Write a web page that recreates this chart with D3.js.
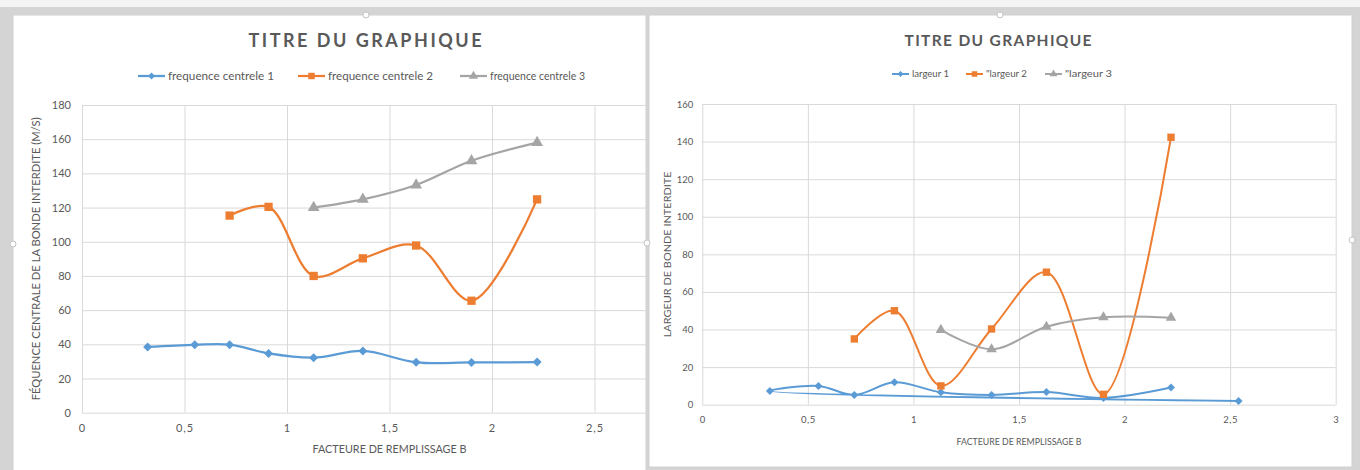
<!DOCTYPE html>
<html><head><meta charset="utf-8">
<script src="https://cdn.jsdelivr.net/npm/d3@7"></script>
<style>
body{margin:0;background:#fff}
svg{display:block}
text{font-family:Lato,'Noto Sans',sans-serif}
</style>
</head><body>
<svg id="c" width="1360" height="470"></svg>
<script>
// ---------- DATA ----------
const chartTitle = "TITRE DU GRAPHIQUE";
const xAxisTitle = "FACTEURE DE REMPLISSAGE B";
const xTicks = [0, 0.5, 1, 1.5, 2, 2.5, 3];

// Left chart
const leftYTitle = "FÉQUENCE CENTRALE DE  LA BONDE INTERDITE (M/S)";
const leftYTicks = [0, 20, 40, 60, 80, 100, 120, 140, 160, 180];
const leftNames = ["frequence centrele 1", "frequence centrele 2", "frequence centrele 3"];
const freq1X = [0.32, 0.55, 0.72, 0.91, 1.13, 1.37, 1.63, 1.90, 2.22];
const freq1Y = [38.5, 39.7, 39.8, 34.7, 32.2, 36.1, 29.5, 29.4, 29.6];
const freq2X = [0.72, 0.91, 1.13, 1.37, 1.63, 1.90, 2.22];
const freq2Y = [115.3, 120.4, 80.0, 90.3, 97.8, 65.5, 124.8];
const freq3X = [1.13, 1.37, 1.63, 1.90, 2.22];
const freq3Y = [120.0, 124.8, 133.2, 147.4, 158.0];

// Right chart
const rightYTitle = "LARGEUR DE BONDE INTERDITE";
const rightYTicks = [0, 20, 40, 60, 80, 100, 120, 140, 160];
const rightNames = ["largeur 1", "\"largeur 2", "\"largeur 3"];
const larg1X = [2.54, 0.32, 0.55, 0.72, 0.91, 1.13, 1.37, 1.63, 1.90, 2.22];
const larg1Y = [2.0, 7.3, 10.0, 5.2, 11.9, 6.6, 5.2, 6.7, 3.6, 9.1];
const larg2X = [0.72, 0.91, 1.13, 1.37, 1.63, 1.90, 2.22];
const larg2Y = [35.0, 50.0, 10.0, 40.3, 70.5, 5.5, 142.3];
const larg3X = [1.13, 1.37, 1.63, 1.90, 2.22];
const larg3Y = [39.8, 29.5, 41.5, 46.5, 46.3];

const colors = ["#5B9BD5", "#ED7D31", "#A5A5A5"];
const markerTypes = ["diamond", "square", "triangle"];

// ---------- DRAW ----------
const svg = d3.select("#c");
svg.append("rect").attr("width", 1360).attr("height", 470).attr("fill", "#d4d4d4");
svg.append("rect").attr("width", 1360).attr("height", 7).attr("fill", "#f4f4f4");

const loc = d3.formatLocale({decimal: ",", thousands: " ", grouping: [3], currency: ["", "€"]});
const fmt = d => loc.format("~g")(d);

function marker(sel, type, size, color) {
  if (type === "diamond") {
    sel.append("path").attr("d", d3.symbol(d3.symbolSquare, size * size / 2)())
      .attr("transform", "rotate(45)").attr("fill", color);
  } else if (type === "square") {
    sel.append("path").attr("d", d3.symbol(d3.symbolSquare, size * size * 0.85)()).attr("fill", color);
  } else {
    sel.append("path").attr("d", d3.symbol(d3.symbolTriangle, size * size * 0.75)()).attr("fill", color);
  }
}

function drawChart(cfg) {
  const g = svg.append("g");
  if (cfg.clip) {
    const id = "clip" + cfg.id;
    svg.append("clipPath").attr("id", id).append("rect")
      .attr("x", cfg.panel[0]).attr("y", cfg.panel[1]).attr("width", cfg.panel[2]).attr("height", cfg.panel[3]);
    g.attr("clip-path", `url(#${id})`);
  }
  g.append("rect").attr("x", cfg.panel[0]).attr("y", cfg.panel[1])
    .attr("width", cfg.panel[2]).attr("height", cfg.panel[3])
    .attr("fill", "#fff").attr("stroke", "#cfcfcf").attr("stroke-width", 1);

  const x = d3.scaleLinear().domain([0, 3]).range([cfg.plot.x0, cfg.plot.x1]);
  const y = d3.scaleLinear().domain([0, cfg.yMax]).range([cfg.plot.y0, cfg.plot.y1]);

  // gridlines
  g.append("g").attr("transform", `translate(0,${cfg.plot.y0})`)
    .call(d3.axisBottom(x).tickValues(xTicks).tickSize(-(cfg.plot.y0 - cfg.plot.y1)).tickFormat(""))
    .call(s => s.select(".domain").remove())
    .call(s => s.selectAll("line").attr("stroke", "#d9d9d9").attr("stroke-width", 1));
  g.append("g").attr("transform", `translate(${cfg.plot.x0},0)`)
    .call(d3.axisLeft(y).tickValues(cfg.yTicks).tickSize(-(cfg.plot.x1 - cfg.plot.x0)).tickFormat(""))
    .call(s => s.select(".domain").remove())
    .call(s => s.selectAll("line").attr("stroke", "#d9d9d9").attr("stroke-width", 1));

  // tick labels
  g.append("g").attr("transform", `translate(0,${cfg.plot.y0})`)
    .call(d3.axisBottom(x).tickValues(xTicks).tickSize(0).tickPadding(cfg.xPad).tickFormat(fmt))
    .call(s => s.select(".domain").remove())
    .call(s => s.selectAll("text").attr("fill", "#595959").attr("font-size", cfg.tickFont)
      .attr("font-family", "Lato, sans-serif").attr("letter-spacing", cfg.tickSpacing));
  g.append("g").attr("transform", `translate(${cfg.plot.x0},0)`)
    .call(d3.axisLeft(y).tickValues(cfg.yTicks).tickSize(0).tickPadding(cfg.yPad).tickFormat(fmt))
    .call(s => s.select(".domain").remove())
    .call(s => s.selectAll("text").attr("fill", "#595959").attr("font-size", cfg.tickFont)
      .attr("font-family", "Lato, sans-serif"));

  // titles
  g.append("text").attr("x", cfg.titleX).attr("y", cfg.titleY).attr("text-anchor", "middle")
    .attr("font-size", cfg.titleFont).attr("font-weight", "bold").attr("fill", "#595959")
    .attr("textLength", cfg.titleW).attr("lengthAdjust", "spacing").text(chartTitle);
  g.append("text").attr("x", (cfg.plot.x0 + cfg.plot.x1) / 2).attr("y", cfg.xTitleY)
    .attr("text-anchor", "middle").attr("font-size", cfg.xTitleFont).attr("fill", "#595959")
    .attr("textLength", cfg.xTitleW).attr("lengthAdjust", "spacingAndGlyphs").text(xAxisTitle);
  g.append("text").attr("transform", `translate(${cfg.yTitleX},${(cfg.plot.y0 + cfg.plot.y1) / 2}) rotate(-90)`)
    .attr("text-anchor", "middle").attr("font-size", cfg.yTitleFont).attr("fill", "#595959")
    .attr("textLength", cfg.yTitleW).attr("lengthAdjust", "spacingAndGlyphs").text(cfg.yTitle);

  // series
  const line = d3.line().x(d => x(d[0])).y(d => y(d[1])).curve(d3.curveCatmullRom.alpha(0.5));
  cfg.series.forEach((s, i) => {
    const pts = d3.zip(s.x, s.y);
    g.append("path").attr("d", line(pts)).attr("fill", "none")
      .attr("stroke", colors[i]).attr("stroke-width", cfg.lineW).attr("stroke-linejoin", "round");
    pts.forEach(p => {
      const m = g.append("g").attr("transform", `translate(${x(p[0])},${y(p[1])})`);
      marker(m, markerTypes[i], cfg.markerSize, colors[i]);
    });
  });

  // legend
  cfg.legend.forEach((L, i) => {
    g.append("line").attr("x1", L.x).attr("x2", L.x + cfg.legLine).attr("y1", cfg.legY).attr("y2", cfg.legY)
      .attr("stroke", colors[i]).attr("stroke-width", cfg.lineW);
    const m = g.append("g").attr("transform", `translate(${L.x + cfg.legLine / 2},${cfg.legY})`);
    marker(m, markerTypes[i], cfg.legMarker, colors[i]);
    g.append("text").attr("x", L.x + cfg.legLine + 3).attr("y", cfg.legY).attr("dy", "0.35em")
      .attr("font-size", cfg.legFont).attr("fill", "#595959")
      .attr("textLength", L.w).attr("lengthAdjust", "spacingAndGlyphs").text(cfg.names[i]);
  });
}

drawChart({
  id: "L", clip: true, panel: [13, 15, 633, 470],
  plot: {x0: 82, x1: 697, y0: 412.7, y1: 105},
  yMax: 180, yTicks: leftYTicks, yTitle: leftYTitle,
  xPad: 12, yPad: 11, tickFont: 11, tickSpacing: 1,
  titleX: 365, titleY: 47, titleFont: 18, titleW: 233,
  xTitleY: 453, xTitleFont: 10.5, xTitleW: 154,
  yTitleX: 40, yTitleFont: 10.5, yTitleW: 283,
  lineW: 2.25, markerSize: 9,
  legY: 76, legLine: 27, legMarker: 7, legFont: 11,
  names: leftNames,
  legend: [{x: 138, w: 106}, {x: 298, w: 105}, {x: 460, w: 95}],
  series: [{x: freq1X, y: freq1Y}, {x: freq2X, y: freq2Y}, {x: freq3X, y: freq3Y}]
});

drawChart({
  id: "R", clip: false, panel: [649, 15, 703, 452],
  plot: {x0: 702.3, x1: 1335.7, y0: 404.7, y1: 104},
  yMax: 160, yTicks: rightYTicks, yTitle: rightYTitle,
  xPad: 12, yPad: 9, tickFont: 9.5, tickSpacing: 0.5,
  titleX: 998, titleY: 46, titleFont: 15.5, titleW: 187,
  xTitleY: 445, xTitleFont: 9, xTitleW: 125,
  yTitleX: 671, yTitleFont: 10, yTitleW: 166,
  lineW: 2, markerSize: 8,
  legY: 74, legLine: 17, legMarker: 6, legFont: 9.5,
  names: rightNames,
  legend: [{x: 892, w: 37}, {x: 966, w: 41}, {x: 1045, w: 47}],
  series: [{x: larg1X, y: larg1Y}, {x: larg2X, y: larg2Y}, {x: larg3X, y: larg3Y}]
});

// selection handles
[[366, 15], [1000, 15], [13, 244], [647, 243], [1352, 240]].forEach(p => {
  svg.append("circle").attr("cx", p[0]).attr("cy", p[1]).attr("r", 3)
    .attr("fill", "#fff").attr("stroke", "#c4c4c4").attr("stroke-width", 1);
});
</script>
</body></html>
